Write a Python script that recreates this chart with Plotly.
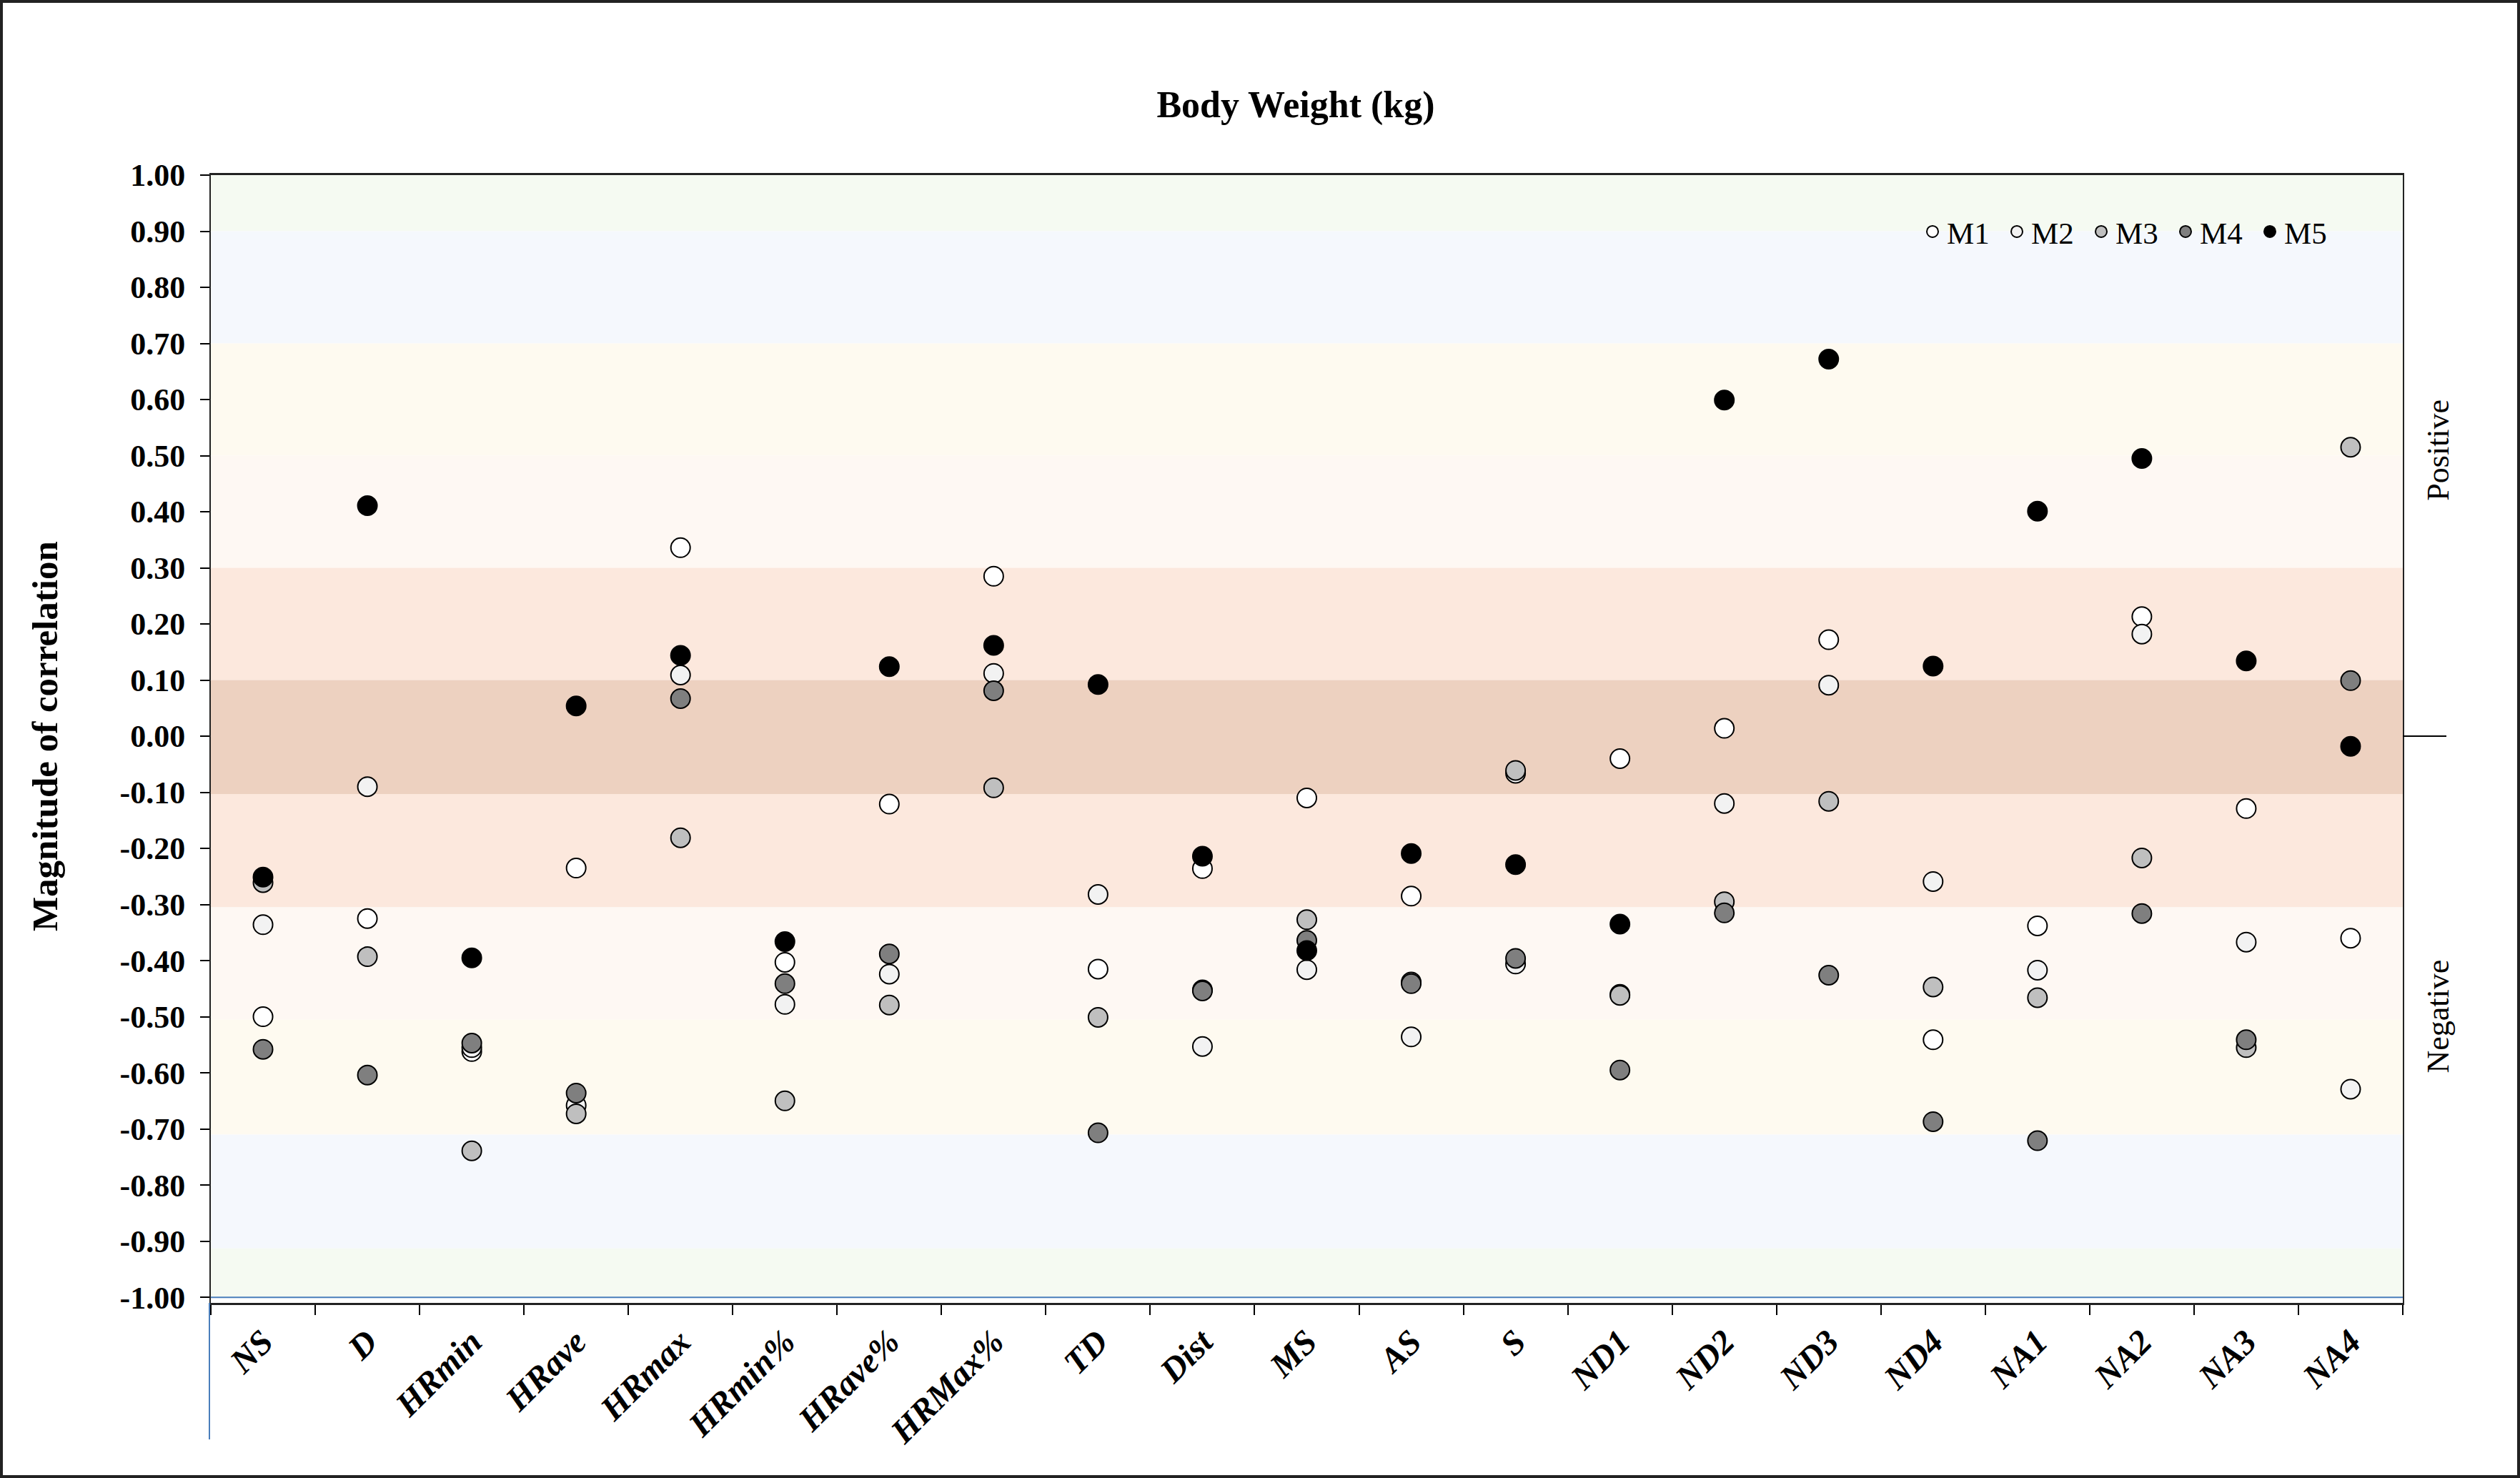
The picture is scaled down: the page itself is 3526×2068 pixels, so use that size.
import plotly.graph_objects as go

# ---------------- data ----------------
categories = ["NS", "D", "HRmin", "HRave", "HRmax", "HRmin%", "HRave%", "HRMax%",
              "TD", "Dist", "MS", "AS", "S", "ND1", "ND2", "ND3", "ND4",
              "NA1", "NA2", "NA3", "NA4"]

m1 = [-0.500, -0.325, -0.562, -0.235, 0.336, -0.403, -0.121, 0.285, -0.415, -0.236,
      -0.110, -0.285, -0.066, -0.040, 0.014, 0.172, -0.541, -0.338, 0.213, -0.129, -0.360]
m2 = [-0.336, -0.090, -0.555, -0.658, 0.109, -0.478, -0.424, 0.112, -0.282, -0.553,
      -0.416, -0.536, -0.406, -0.460, -0.120, 0.091, -0.259, -0.417, 0.182, -0.367, -0.629]
m3 = [-0.261, -0.393, -0.739, -0.673, -0.181, -0.650, -0.479, -0.092, -0.501, -0.452,
      -0.327, -0.438, -0.061, -0.462, -0.295, -0.116, -0.447, -0.466, -0.217, -0.555, 0.515]
m4 = [-0.558, -0.604, -0.547, -0.636, 0.067, -0.441, -0.388, 0.081, -0.707, -0.454,
      -0.364, -0.441, -0.396, -0.595, -0.315, -0.426, -0.687, -0.721, -0.316, -0.541, 0.099]
m5 = [-0.251, 0.411, -0.395, 0.054, 0.144, -0.366, 0.124, 0.162, 0.092, -0.214,
      -0.382, -0.209, -0.229, -0.335, 0.599, 0.672, 0.125, 0.401, 0.495, 0.134, -0.018]

series_names = ["M1", "M2", "M3", "M4", "M5"]
series_values = [m1, m2, m3, m4, m5]

tick_values = [1.0, 0.9, 0.8, 0.7, 0.6, 0.5, 0.4, 0.3, 0.2, 0.1, 0.0,
               -0.1, -0.2, -0.3, -0.4, -0.5, -0.6, -0.7, -0.8, -0.9, -1.0]
tick_labels = ["1.00", "0.90", "0.80", "0.70", "0.60", "0.50", "0.40", "0.30", "0.20", "0.10", "0.00",
               "-0.10", "-0.20", "-0.30", "-0.40", "-0.50", "-0.60", "-0.70", "-0.80", "-0.90", "-1.00"]

# magnitude bands (lower, upper)
band_edges = [(0.9, 1.0), (0.7, 0.9), (0.5, 0.7), (0.3, 0.5), (0.1, 0.3), (-0.103, 0.1),
              (-0.305, -0.103), (-0.505, -0.305), (-0.71, -0.505), (-0.913, -0.71), (-1.0, -0.913)]

# ---------------- style ----------------
FONT = "Liberation Serif, Times New Roman, serif"
marker_colors = ["#FFFFFF", "#F2F2F2", "#BFBFBF", "#7F7F7F", "#000000"]
band_colors = ["#F5FAF2", "#F5F8FD", "#FEFAF0", "#FEF8F3", "#FCE8DD", "#EDD1C0",
               "#FCE8DD", "#FEF8F3", "#FEFAF0", "#F5F8FD", "#F5FAF2"]

W, H = 3526, 2068
L, R, T, B = 295, 164, 245, 245
PW, PH = W - L - R, H - T - B


def px_x(p):
    return (p - L) / PW


def px_y(p):
    return (H - B - p) / PH


fig = go.Figure()
for name, vals, col in zip(series_names, series_values, marker_colors):
    fig.add_trace(go.Scatter(
        x=categories, y=vals, mode="markers", name=name,
        marker=dict(size=27, color=col, line=dict(color="#000000", width=2)),
    ))

shapes = []
for (lo, hi), col in zip(band_edges, band_colors):
    shapes.append(dict(type="rect", xref="paper", yref="y", x0=0, x1=1, y0=lo, y1=hi,
                       fillcolor=col, line=dict(width=0), layer="below"))
# thin blue line at -1.00 and left blue drop line
shapes.append(dict(type="line", xref="paper", yref="y", x0=0, x1=1, y0=-1.0, y1=-1.0,
                   line=dict(color="#4A7EBB", width=2), layer="above"))
shapes.append(dict(type="line", xref="paper", yref="paper", x0=px_x(293), x1=px_x(293),
                   y0=0, y1=px_y(2014), line=dict(color="#4A7EBB", width=2)))
# zero tick on the right side
shapes.append(dict(type="line", xref="paper", yref="y", x0=1, x1=px_x(3423), y0=0, y1=0,
                   line=dict(color="#000000", width=2)))
# outer frame
shapes.append(dict(type="rect", xref="paper", yref="paper", x0=px_x(2), x1=px_x(3524),
                   y0=px_y(2066), y1=px_y(2), line=dict(color="#222222", width=4),
                   fillcolor="rgba(0,0,0,0)"))

annotations = [
    dict(text="<b>Magnitude of correlation</b>", xref="paper", yref="y",
         x=px_x(63), y=0.0, textangle=-90, showarrow=False,
         font=dict(family=FONT, size=51, color="#000000"), xanchor="center", yanchor="middle"),
    dict(text="Positive", xref="paper", yref="y", x=px_x(3412), y=0.51, textangle=-90,
         showarrow=False, font=dict(family=FONT, size=44, color="#000000"),
         xanchor="center", yanchor="middle"),
    dict(text="Negative", xref="paper", yref="y", x=px_x(3412), y=-0.50, textangle=-90,
         showarrow=False, font=dict(family=FONT, size=44, color="#000000"),
         xanchor="center", yanchor="middle"),
]

fig.update_layout(
    width=W, height=H,
    margin=dict(l=L, r=R, t=T, b=B, autoexpand=False),
    paper_bgcolor="#FFFFFF", plot_bgcolor="#FFFFFF",
    font=dict(family=FONT, color="#000000"),
    title=dict(text="<b>Body Weight (kg)</b>", x=1813 / W, xref="container", xanchor="center",
               y=1 - 146 / H, yref="container", yanchor="middle",
               font=dict(family=FONT, size=52, color="#000000")),
    showlegend=True,
    legend=dict(orientation="h", x=px_x(2684), y=px_y(324), xanchor="left", yanchor="middle",
                bgcolor="rgba(0,0,0,0)", font=dict(family=FONT, size=43, color="#000000"),
                entrywidth=73, entrywidthmode="pixels", itemwidth=30),
    shapes=shapes,
    annotations=annotations,
)

fig.update_xaxes(
    type="category", categoryorder="array", categoryarray=categories,
    range=[-0.5, len(categories) - 0.5],
    showgrid=False, zeroline=False,
    showline=True, linecolor="#222222", linewidth=3, mirror=True,
    ticks="outside", tickson="boundaries", ticklen=14, tickwidth=2, tickcolor="#000000",
    tickangle=-45, ticklabelstandoff=4,
    tickfont=dict(family=FONT, size=48, color="#000000", weight="bold", style="italic"),
)
fig.update_yaxes(
    range=[-1.01, 1.0],
    tickmode="array", tickvals=tick_values, ticktext=tick_labels,
    showgrid=False, zeroline=False,
    showline=True, linecolor="#222222", linewidth=2, mirror=True,
    ticks="outside", ticklen=13, tickwidth=2, tickcolor="#000000",
    ticklabelstandoff=12,
    tickfont=dict(family=FONT, size=44, color="#000000", weight="bold"),
)

fig.write_html("out.html", config={"displayModeBar": False},
               post_script="document.body.style.margin='0';")
